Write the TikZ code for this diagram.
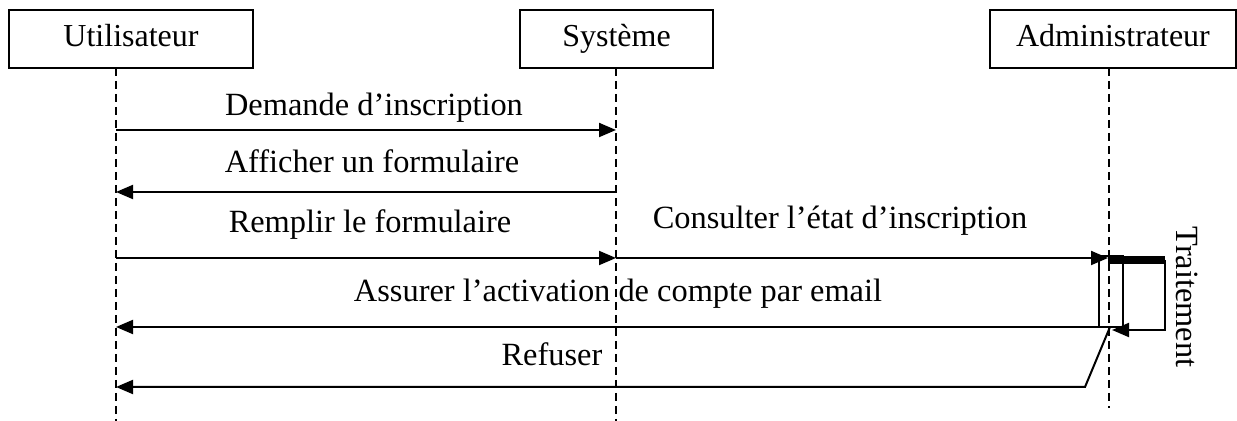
\documentclass[tikz,border=0pt]{standalone}
\usepackage{fontspec}
\setmainfont{Liberation Serif}
\usetikzlibrary{arrows.meta}
\begin{document}
\begin{tikzpicture}[x=0.5pt,y=-0.5pt,
  actor/.style={draw, line width=1pt, inner sep=0pt, minimum height=29pt,
    text height=11pt, text depth=3.5pt, font=\fontsize{16}{19}\selectfont},
  lifeline/.style={line width=0.8pt, dash pattern=on 4pt off 2.5pt},
  msg/.style={line width=1pt, -{Triangle[length=8.5pt,width=7pt]}},
  plain/.style={line width=1pt},
  lbl/.style={anchor=base, inner sep=0pt, font=\fontsize{16.2}{19}\selectfont},
]
\useasboundingbox (0,0) rectangle (1237,421);
\fill[white] (0,0) rectangle (1237,421);

% participants
\node[actor, minimum width=122pt]   (user)  at (131,39)    {Utilisateur};
\node[actor, minimum width=96.5pt]  (sys)   at (616.5,39)  {Système};
\node[actor, minimum width=123pt]   (admin) at (1113,39)   {Administrateur};

% lifelines
\coordinate (uTop) at (116,68);   \coordinate (uBot) at (116,421);
\coordinate (sTop) at (616,68);   \coordinate (sBot) at (616,421);
\coordinate (aTop) at (1109,68);  \coordinate (aBot) at (1109,408);
\draw[lifeline] (uTop) -- (uBot);
\draw[lifeline] (sTop) -- (sBot);
\draw[lifeline] (aTop) -- (aBot);

% message end points
\coordinate (m1u) at (116,130);  \coordinate (m1s) at (616,130);
\coordinate (m2u) at (116,192);  \coordinate (m2s) at (616,192);
\coordinate (m3u) at (116,258);  \coordinate (m3s) at (616,258);
\coordinate (m4a) at (1108,258);
\coordinate (m5u) at (116,327);
\coordinate (m6u) at (116,387);  \coordinate (m6k) at (1085,387);

% activation of the administrator
\coordinate (actTL) at (1099,256); \coordinate (actBR) at (1123,327);
\coordinate (actBL) at (1099,327); \coordinate (actBM) at (1110,327);
\draw[plain] (actTL) rectangle (actBR);

% self call "Traitement"
\coordinate (selfA) at (1108,260); \coordinate (selfB) at (1165,260);
\coordinate (selfC) at (1165,330); \coordinate (selfD) at (1112,330);
\coordinate (selfE) at (1123,260); \coordinate (selfF) at (1123,330);
\draw[plain] (selfE) -- (selfF);
\draw[line width=4pt] (selfA) -- (selfB);
\draw[msg] (selfB) -- (selfC) -- (selfD);
\node[lbl, anchor=center, rotate=-90] (trt) at (1187,297) {Traitement};

% messages
\draw[msg] (m1u) -- (m1s);
\draw[msg] (m2s) -- (m2u);
\draw[msg] (m3u) -- (m3s);
\draw[msg] (m3s) -- (m4a);
\draw[msg] (actBL) -- (m5u);
\draw[msg] (actBM) -- (m6k) -- (m6u);

% message labels
\node[lbl] (l1) at (374,116) {Demande d’inscription};
\node[lbl] (l2) at (372,173) {Afficher un formulaire};
\node[lbl] (l3) at (370,233) {Remplir le formulaire};
\node[lbl] (l4) at (840,229) {Consulter l’état d’inscription};
\node[lbl] (l5) at (618,302) {Assurer l’activation de compte par email};
\node[lbl] (l6) at (552,366) {Refuser};
\end{tikzpicture}
\end{document}
